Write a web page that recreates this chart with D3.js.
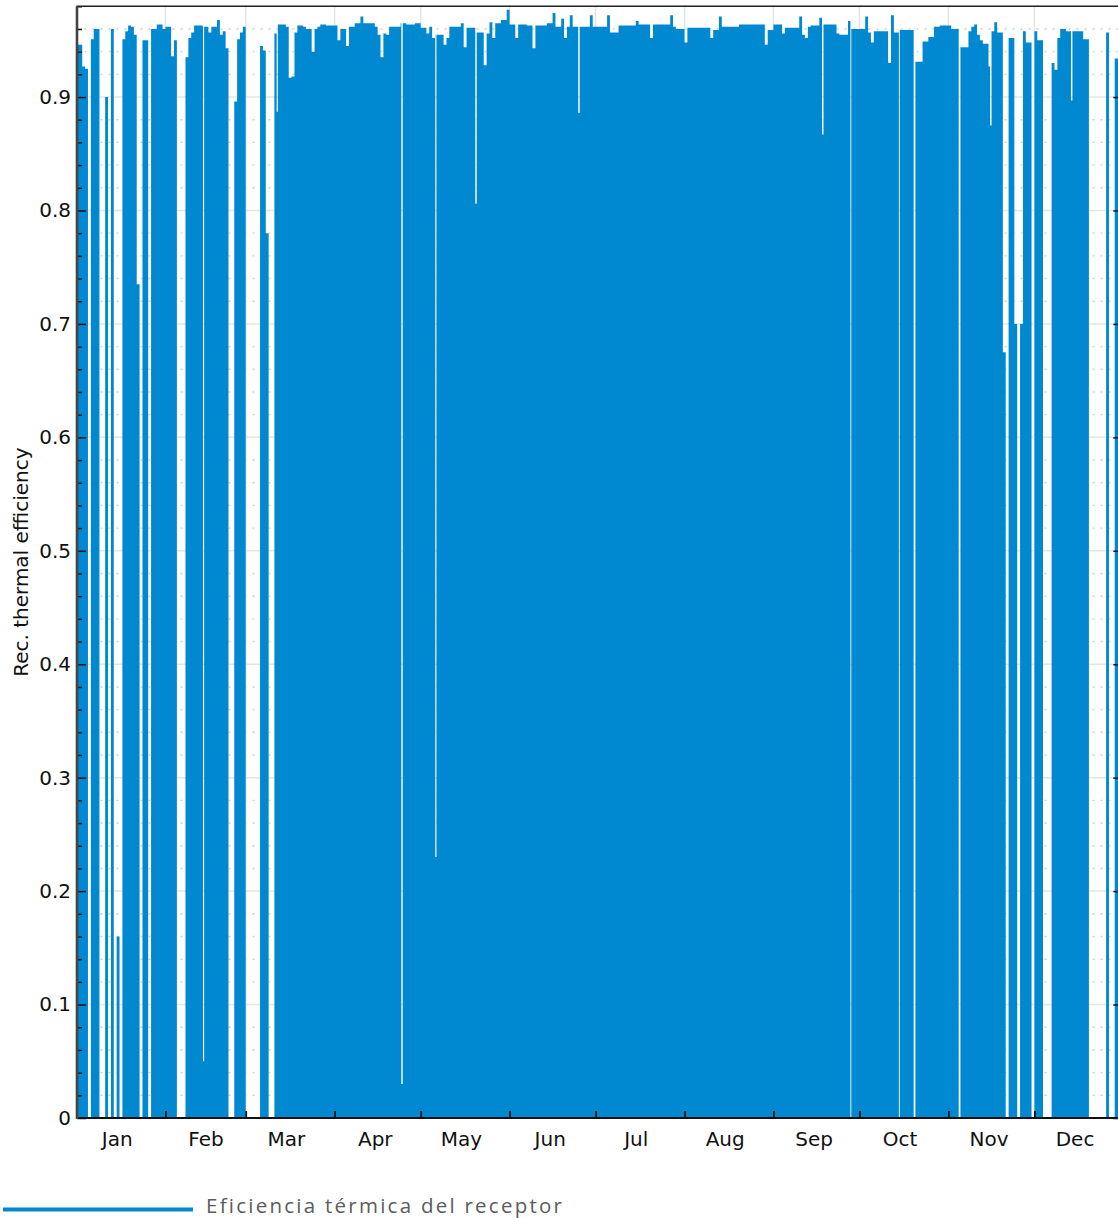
<!DOCTYPE html>
<html>
<head>
<meta charset="utf-8">
<script src="https://cdn.jsdelivr.net/npm/d3@7"></script>
<style>
  html, body { margin: 0; padding: 0; background: #fff; }
  svg { display: block; }
</style>
</head>
<body>
<svg id="chart" width="1118" height="1218"></svg>
<script>
// ---- data ---------------------------------------------------------------
const months = ["Jan", "Feb", "Mar", "Apr", "May", "Jun", "Jul", "Aug", "Sep", "Oct", "Nov", "Dec"];
const monthLengths = [31, 28, 31, 30, 31, 30, 31, 31, 30, 31, 30, 31];
const monthLabelDay = 14; // month names sit on the 15th

// Daily receiver thermal efficiency (day 0 = 1 Jan); 0 = receiver not operating
const dailyEfficiency = [
  0.946, 0.946, 0.927, 0.925, 0, 0.951, 0.96, 0.96, 0, 0,
  0.9, 0, 0.96, 0, 0.16, 0, 0.951, 0.958, 0.963, 0.962,
  0.955, 0.735, 0, 0.95, 0.95, 0, 0.96, 0.96, 0.964, 0.964,
  0.96, 0.962, 0.962, 0.936, 0.95, 0, 0, 0, 0.935, 0.952,
  0.957, 0.963, 0.963, 0.963, 0.962, 0.962, 0.957, 0.962, 0.962, 0.968,
  0.955, 0.958, 0.943, 0, 0, 0.896, 0.951, 0.957, 0.962, 0,
  0, 0, 0, 0, 0.945, 0.941, 0.78, 0, 0, 0.956,
  0.964, 0.964, 0.964, 0.962, 0.917, 0.918, 0.957, 0.963, 0.963, 0.962,
  0.96, 0.96, 0.94, 0.96, 0.962, 0.964, 0.964, 0.963, 0.963, 0.963,
  0.963, 0.95, 0.96, 0.96, 0.945, 0.962, 0.962, 0.965, 0.965, 0.971,
  0.965, 0.965, 0.965, 0.965, 0.962, 0.955, 0.935, 0.956, 0.955, 0.962,
  0.962, 0.962, 0.962, 0.965, 0.965, 0.964, 0.964, 0.964, 0.965, 0.965,
  0.961, 0.961, 0.956, 0.962, 0.952, 0.955, 0.955, 0.955, 0.946, 0.952,
  0.962, 0.962, 0.962, 0.962, 0.965, 0.944, 0.961, 0.961, 0.961, 0.957,
  0.957, 0.957, 0.928, 0.956, 0.966, 0.952, 0.965, 0.965, 0.968, 0.968,
  0.977, 0.964, 0.964, 0.952, 0.964, 0.964, 0.964, 0.963, 0.963, 0.943,
  0.963, 0.963, 0.963, 0.963, 0.965, 0.965, 0.974, 0.962, 0.962, 0.969,
  0.952, 0.962, 0.972, 0.962, 0.962, 0.962, 0.962, 0.962, 0.962, 0.972,
  0.962, 0.962, 0.962, 0.962, 0.962, 0.972, 0.957, 0.957, 0.957, 0.963,
  0.963, 0.963, 0.963, 0.963, 0.963, 0.967, 0.964, 0.964, 0.964, 0.964,
  0.952, 0.964, 0.964, 0.964, 0.964, 0.964, 0.964, 0.972, 0.962, 0.96,
  0.96, 0.96, 0.948, 0.961, 0.961, 0.961, 0.961, 0.961, 0.961, 0.961,
  0.961, 0.952, 0.959, 0.959, 0.971, 0.962, 0.962, 0.962, 0.962, 0.962,
  0.962, 0.964, 0.964, 0.964, 0.964, 0.964, 0.964, 0.964, 0.964, 0.964,
  0.946, 0.959, 0.959, 0.964, 0.964, 0.964, 0.956, 0.961, 0.961, 0.961,
  0.961, 0.961, 0.971, 0.955, 0.952, 0.962, 0.963, 0.963, 0.963, 0.97,
  0.964, 0.964, 0.964, 0.964, 0.964, 0.956, 0.955, 0.955, 0.955, 0.967,
  0.96, 0.96, 0.96, 0.96, 0.96, 0.971, 0.957, 0.948, 0.958, 0.958,
  0.958, 0.958, 0.958, 0.93, 0.972, 0.957, 0.957, 0.959, 0.959, 0.959,
  0.959, 0.959, 0.931, 0.931, 0.931, 0.949, 0.949, 0.953, 0.953, 0.962,
  0.962, 0.963, 0.963, 0.963, 0.963, 0.96, 0.96, 0.96, 0.944, 0.944,
  0.944, 0.958, 0.962, 0.964, 0.955, 0.95, 0.947, 0.947, 0.927, 0.958,
  0.966, 0.957, 0.957, 0.675, 0, 0.952, 0.952, 0.7, 0, 0.7,
  0.958, 0.948, 0.948, 0, 0.958, 0.95, 0.95, 0, 0, 0,
  0.93, 0.924, 0.952, 0.96, 0.96, 0.958, 0.958, 0.958, 0.958, 0.958,
  0.958, 0.951, 0.951, 0, 0, 0, 0, 0, 0, 0.957,
  0, 0, 0.934, 0.934, 0.934
];

// Short drops inside an operating day: [day of year, lowest value, duration in days]
const outageDips = [
  [44.3, 0.05, 0.4],
  [70.0, 0.887, 0.4],
  [113.5, 0.03, 0.5],
  [125.3, 0.23, 0.4],
  [139.3, 0.806, 0.5],
  [175.2, 0.886, 0.5],
  [260.2, 0.867, 0.5],
  [270.0, 0, 0.3],
  [286.9, 0, 0.3],
  [292.2, 0, 0.6],
  [307.9, 0, 0.6],
  [318.8, 0.875, 0.5],
  [347.0, 0.897, 0.5]
];

const yMajorTicks = [0, 0.1, 0.2, 0.3, 0.4, 0.5, 0.6, 0.7, 0.8, 0.9];
const yTickLabels = ["0", "0.1", "0.2", "0.3", "0.4", "0.5", "0.6", "0.7", "0.8", "0.9"];
const yMinorTicks = d3.range(0, 50).map(i => +(i * 0.02).toFixed(2)).filter(v => Math.round(v * 100) % 10 !== 0);
const yAxisTitle = "Rec. thermal efficiency";
const legendLabel = "Eficiencia térmica del receptor";

// ---- layout ---------------------------------------------------------------
const W = 1118, H = 1218;
const plotLeft = 76.5, plotBottom = 1118;
const pxPerDay = 2.868, pxPerUnit = 1134.4;
const blue = "#0089d1";

const x = d3.scaleLinear().domain([0, 365]).range([plotLeft, plotLeft + 365 * pxPerDay]);
const y = d3.scaleLinear().domain([0, 0.98]).range([plotBottom, plotBottom - 0.98 * pxPerUnit]);

const monthStarts = d3.cumsum([0, ...monthLengths.slice(0, -1)]);
const monthLabelAt = monthStarts.map(s => s + monthLabelDay);

const svg = d3.select("#chart");
const font = "'DejaVu Sans', Verdana, sans-serif";

// ---- grid ---------------------------------------------------------------
const grid = svg.append("g");
grid.selectAll("line.minor").data(yMinorTicks).join("line")
  .attr("x1", plotLeft).attr("x2", W)
  .attr("y1", d => y(d)).attr("y2", d => y(d))
  .attr("stroke", "#cfcfcf").attr("stroke-width", 1.4)
  .attr("stroke-dasharray", "2,6");
grid.selectAll("line.major").data(yMajorTicks.slice(1)).join("line")
  .attr("x1", plotLeft).attr("x2", W)
  .attr("y1", d => y(d)).attr("y2", d => y(d))
  .attr("stroke", "#e4e4e4").attr("stroke-width", 1.5);
grid.selectAll("line.vmajor").data(monthStarts.slice(1)).join("line")
  .attr("x1", d => x(d)).attr("x2", d => x(d))
  .attr("y1", y(0.98)).attr("y2", plotBottom)
  .attr("stroke", "#e4e4e4").attr("stroke-width", 1.5);

// ---- efficiency area ---------------------------------------------------
let points = dailyEfficiency.map((v, i) => ({ t: i, v }));
outageDips.forEach(([t, v, w]) => {
  const a = t - w / 2, b = t + w / 2;
  points = points.filter(p => !(p.t > a && p.t < b));
  points.push({ t: a, v });
  points.push({ t: b, v: dailyEfficiency[Math.floor(b)] });
});
points.sort((p, q) => p.t - q.t);
points.push({ t: 365, v: dailyEfficiency[364] });

const area = d3.area()
  .x(d => x(d.t))
  .y0(y(0))
  .y1(d => y(d.v))
  .curve(d3.curveStepAfter);

svg.append("path")
  .datum(points)
  .attr("d", area)
  .attr("fill", blue);

// ---- axes -------------------------------------------------------------
// left axis: major ticks with labels, minor ticks, all pointing inward
const leftMajor = svg.append("g")
  .attr("transform", `translate(${plotLeft + 0.5},0)`)
  .call(d3.axisLeft(y).tickValues(yMajorTicks)
    .tickFormat((d, i) => yTickLabels[i]).tickSize(-9).tickPadding(6));
leftMajor.select(".domain").remove();
leftMajor.selectAll("line").attr("stroke", "#111").attr("stroke-width", 1.5);
leftMajor.selectAll("text").attr("font-family", font).attr("font-size", 20).attr("fill", "#111");

const leftMinor = svg.append("g")
  .attr("transform", `translate(${plotLeft + 0.5},0)`)
  .call(d3.axisLeft(y).tickValues(yMinorTicks).tickFormat("").tickSize(-5));
leftMinor.select(".domain").remove();
leftMinor.selectAll("line").attr("stroke", "#111").attr("stroke-width", 1.5);

// right axis sits at the end of the year, ticks pointing inward
const xEnd = x(365);
const rightMajor = svg.append("g")
  .attr("transform", `translate(${xEnd},0)`)
  .call(d3.axisRight(y).tickValues(yMajorTicks).tickFormat("").tickSize(-10));
rightMajor.select(".domain").remove();
rightMajor.selectAll("line").attr("stroke", "#111").attr("stroke-width", 1.5);
const rightMinor = svg.append("g")
  .attr("transform", `translate(${xEnd},0)`)
  .call(d3.axisRight(y).tickValues(yMinorTicks).tickFormat("").tickSize(-5));
rightMinor.select(".domain").remove();
rightMinor.selectAll("line").attr("stroke", "#111").attr("stroke-width", 1.5);

// bottom axis: month boundary ticks + month names
const bottomTicks = svg.append("g")
  .attr("transform", `translate(0,${plotBottom})`)
  .call(d3.axisBottom(x).tickValues(monthStarts.slice(1)).tickFormat("").tickSize(-7));
bottomTicks.select(".domain").remove();
bottomTicks.selectAll("line").attr("stroke", "#111").attr("stroke-width", 1.8);

const bottomLabels = svg.append("g")
  .attr("transform", `translate(0,${plotBottom})`)
  .call(d3.axisBottom(x).tickValues(monthLabelAt).tickFormat((d, i) => months[i]).tickSize(0).tickPadding(14));
bottomLabels.select(".domain").remove();
bottomLabels.selectAll("text").attr("font-family", font).attr("font-size", 20).attr("fill", "#111");

// frame lines
svg.append("line")
  .attr("x1", plotLeft).attr("x2", W).attr("y1", plotBottom).attr("y2", plotBottom)
  .attr("stroke", "#111").attr("stroke-width", 2);
svg.append("line")
  .attr("x1", plotLeft).attr("x2", W).attr("y1", y(0.98)).attr("y2", y(0.98))
  .attr("stroke", "#222").attr("stroke-width", 1.6);
svg.append("line")
  .attr("x1", plotLeft + 0.5).attr("x2", plotLeft + 0.5).attr("y1", y(0.98)).attr("y2", plotBottom + 1)
  .attr("stroke", "#444").attr("stroke-width", 2.6);

// y axis title
svg.append("text")
  .attr("transform", `translate(27.5,${(y(0) + y(0.98)) / 2})rotate(-90)`)
  .attr("text-anchor", "middle")
  .attr("font-family", font).attr("font-size", 20).attr("fill", "#111")
  .text(yAxisTitle);

// ---- legend ------------------------------------------------------------
svg.append("line")
  .attr("x1", 3).attr("x2", 193).attr("y1", 1209.5).attr("y2", 1209.5)
  .attr("stroke", blue).attr("stroke-width", 4);
const legendText = svg.append("text")
  .attr("x", 206).attr("y", 1213)
  .attr("font-family", "'Open Sans', 'Noto Sans', sans-serif")
  .attr("font-size", 20.5).attr("fill", "#5c5c5c")
  .text(legendLabel);
// spread the letters so the label spans the same width as in the printed legend
const natural = legendText.node().getComputedTextLength();
const spacing = Math.max(0, (356 - natural) / (legendLabel.length - 1));
legendText.attr("letter-spacing", spacing.toFixed(2));
</script>
</body>
</html>
